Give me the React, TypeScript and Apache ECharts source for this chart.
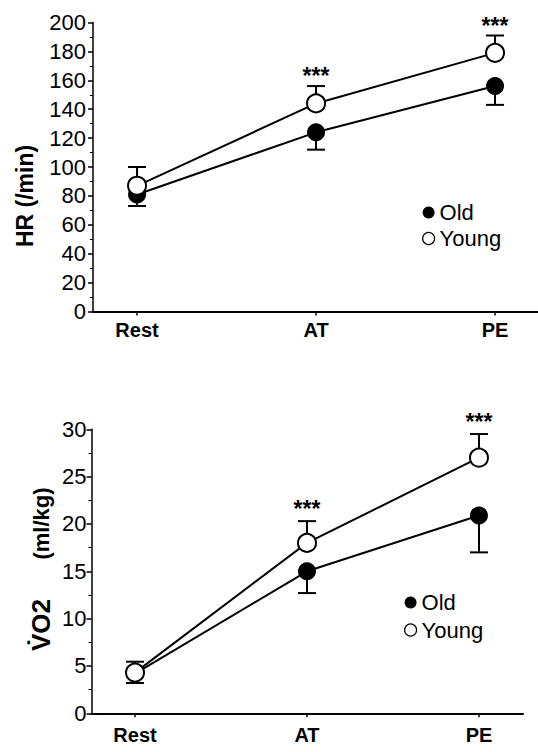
import React, { useEffect, useRef } from "react";
import * as echarts from "echarts";

const categories = ["Rest", "AT", "PE"];

// Heart rate (/min)
const hrOld = [81, 124, 156];
const hrOldLow = [73, 112, 143];
const hrYoung = [87, 144, 179];
const hrYoungHigh = [100, 156, 191];
const hrStars = ["", "***", "***"];

// VO2 (ml/kg)
const vo2Old = [4.2, 15.0, 20.9];
const vo2OldLow = [3.2, 12.7, 17.0];
const vo2Young = [4.3, 18.0, 27.0];
const vo2YoungHigh = [5.45, 20.3, 29.5];
const vo2Stars = ["", "***", "***"];

const FONT = "'Liberation Sans', Arial, Helvetica, sans-serif";

function pts(vals: number[]) {
  return vals.map((v, i) => [i, v]);
}

function errSeries(vals: number[], ends: number[], gi: number) {
  return {
    type: "custom",
    xAxisIndex: gi,
    yAxisIndex: gi,
    z: 1,
    silent: true,
    encode: { x: 0, y: [1, 2] },
    data: vals.map((v, i) => [i, v, ends[i]]),
    renderItem: (params: any, api: any) => {
      const p0 = api.coord([api.value(0), api.value(1)]);
      const p1 = api.coord([api.value(0), api.value(2)]);
      return {
        type: "group",
        children: [
          {
            type: "line",
            shape: { x1: p0[0], y1: p0[1], x2: p1[0], y2: p1[1] },
            style: { stroke: "#000", lineWidth: 2 },
          },
          {
            type: "line",
            shape: { x1: p1[0] - 9, y1: p1[1], x2: p1[0] + 9, y2: p1[1] },
            style: { stroke: "#000", lineWidth: 2 },
          },
        ],
      };
    },
  };
}

function starSeries(stars: string[], tops: number[], gi: number, off: number) {
  return {
    type: "custom",
    xAxisIndex: gi,
    yAxisIndex: gi,
    z: 5,
    silent: true,
    encode: { x: 0, y: 1 },
    data: tops.map((v, i) => [i, v]),
    renderItem: (params: any, api: any) => {
      const s = stars[params.dataIndex];
      if (!s) return null;
      const p = api.coord([api.value(0), api.value(1)]);
      return {
        type: "text",
        x: p[0],
        y: p[1] - off,
        style: {
          text: s,
          fontSize: 23,
          fontWeight: "bold",
          fontFamily: FONT,
          align: "center",
          verticalAlign: "middle",
          fill: "#000",
        },
      };
    },
  };
}

function lineSeries(name: string, vals: number[], gi: number, open: boolean) {
  return {
    type: "line",
    name,
    xAxisIndex: gi,
    yAxisIndex: gi,
    z: open ? 4 : 3,
    data: pts(vals),
    symbol: "circle",
    symbolSize: 18,
    showSymbol: true,
    lineStyle: { color: "#000", width: 2 },
    itemStyle: open
      ? { color: "#fff", borderColor: "#000", borderWidth: 2 }
      : { color: "#000", borderColor: "#000", borderWidth: 0 },
  };
}

function xAxisDef(gi: number, min: number, max: number, margin: number) {
  return {
    type: "value",
    gridIndex: gi,
    min,
    max,
    splitLine: { show: false },
    axisLine: { show: true, onZero: false, lineStyle: { color: "#000", width: 2 } },
    axisTick: { show: true, customValues: [0, 1, 2], length: 4, lineStyle: { color: "#000", width: 1.5 } },
    axisLabel: {
      customValues: [0, 1, 2],
      formatter: (v: number) => categories[Math.round(v)] ?? "",
      fontSize: 20,
      fontWeight: "bold",
      fontFamily: FONT,
      color: "#000",
      margin,
    },
  };
}

function yAxisDef(gi: number, max: number, interval: number, margin: number) {
  return {
    type: "value",
    gridIndex: gi,
    min: 0,
    max,
    interval,
    splitLine: { show: false },
    axisLine: { show: true, onZero: false, lineStyle: { color: "#000", width: 1.5 } },
    axisTick: { show: true, length: 5, lineStyle: { color: "#000", width: 1.5 } },
    minorTick: { show: true, splitNumber: 2, length: 3, lineStyle: { color: "#000", width: 1 } },
    minorSplitLine: { show: false },
    axisLabel: { fontSize: 22, fontFamily: FONT, color: "#000", margin },
  };
}

function legendDef(left: number, top: number, gap: number) {
  return {
    left,
    top,
    orient: "vertical",
    itemWidth: 12,
    itemHeight: 12,
    itemGap: gap,
    selectedMode: false,
    textStyle: { fontSize: 22, fontFamily: FONT, color: "#000", lineHeight: 22 },
    data: [
      { name: "Old", icon: "circle", itemStyle: { color: "#000", borderWidth: 0 } },
      { name: "Young", icon: "circle", itemStyle: { color: "#fff", borderColor: "#000", borderWidth: 1.2 } },
    ],
  };
}

export default function App() {
  const ref = useRef<HTMLDivElement>(null);
  useEffect(() => {
    document.body.style.margin = "0";
    if (!ref.current) return;
    const chart = echarts.init(ref.current, null, { renderer: "svg" });
    chart.setOption({
      animation: false,
      backgroundColor: "#fff",
      grid: [
        { left: 93, top: 22.5, width: 445, height: 289 },
        { left: 91.5, top: 429.3, width: 431.5, height: 284 },
      ],
      xAxis: [xAxisDef(0, -0.246, 2.24, 8), xAxisDef(1, -0.253, 2.256, 12)],
      yAxis: [yAxisDef(0, 200, 20, 7), yAxisDef(1, 30, 5, 5)],
      legend: [legendDef(417, 196.5, 4), legendDef(399, 586.5, 5.5)],
      graphic: [
        {
          type: "text",
          x: 25,
          y: 196,
          rotation: Math.PI / 2,
          style: {
            text: "HR (/min)",
            fontSize: 23,
            fontWeight: "bold",
            fontFamily: FONT,
            align: "center",
            verticalAlign: "middle",
            fill: "#000",
          },
        },
        {
          type: "text",
          x: 41,
          y: 625,
          rotation: Math.PI / 2,
          style: {
            text: "V\u0307O2",
            fontSize: 26,
            fontWeight: "bold",
            fontFamily: FONT,
            align: "center",
            verticalAlign: "middle",
            fill: "#000",
          },
        },
        {
          type: "text",
          x: 41,
          y: 523.5,
          rotation: Math.PI / 2,
          style: {
            text: "(ml/kg)",
            fontSize: 22,
            fontWeight: "bold",
            fontFamily: FONT,
            align: "center",
            verticalAlign: "middle",
            fill: "#000",
          },
        },
      ],
      series: [
        errSeries(hrOld, hrOldLow, 0),
        errSeries(hrYoung, hrYoungHigh, 0),
        lineSeries("Old", hrOld, 0, false),
        lineSeries("Young", hrYoung, 0, true),
        starSeries(hrStars, hrYoungHigh, 0, 10),
        errSeries(vo2Old, vo2OldLow, 1),
        errSeries(vo2Young, vo2YoungHigh, 1),
        lineSeries("Old", vo2Old, 1, false),
        lineSeries("Young", vo2Young, 1, true),
        starSeries(vo2Stars, vo2YoungHigh, 1, 12),
      ],
    });
    return () => chart.dispose();
  }, []);
  return (
    <div
      ref={ref}
      style={{ position: "absolute", left: 0, top: 0, width: 538, height: 752, background: "#fff" }}
    />
  );
}
